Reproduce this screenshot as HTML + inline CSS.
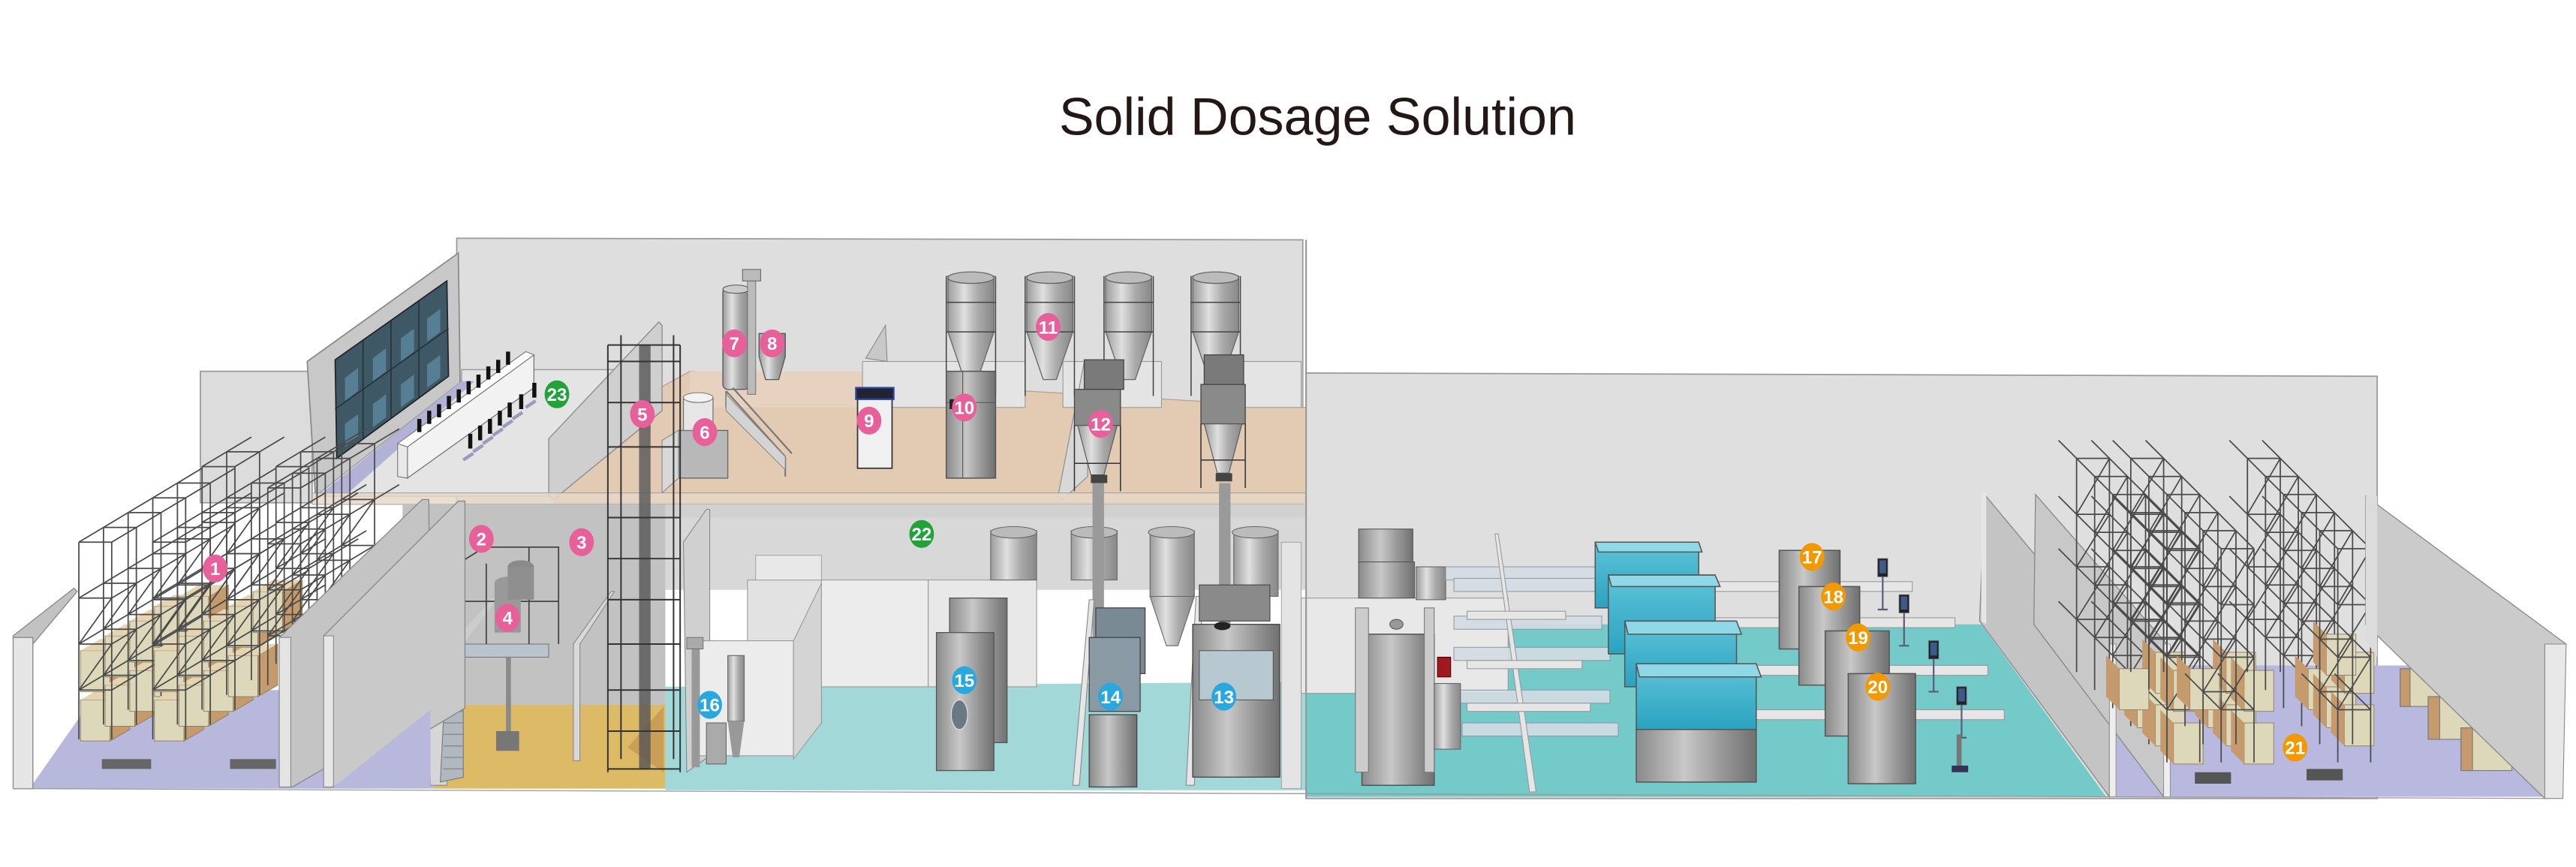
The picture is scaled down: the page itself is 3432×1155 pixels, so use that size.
<!DOCTYPE html>
<html><head><meta charset="utf-8"><style>
html,body{margin:0;padding:0;background:#fff;}
svg{display:block;}
.lb text{font-family:"Liberation Sans Narrow","Liberation Sans",sans-serif;font-weight:bold;font-size:11px;fill:#fff;text-anchor:middle;}
</style></head><body>
<svg width="3432" height="1155" viewBox="0 0 1568 527.7" preserveAspectRatio="none" xmlns="http://www.w3.org/2000/svg">
<defs>
<linearGradient id="met" x1="0" x2="1"><stop offset="0" stop-color="#8a8a8a"/><stop offset="0.4" stop-color="#c8c8c8"/><stop offset="0.7" stop-color="#9a9a9a"/><stop offset="1" stop-color="#707070"/></linearGradient>
<linearGradient id="silo" x1="0" x2="1"><stop offset="0" stop-color="#9c9c9c"/><stop offset="0.35" stop-color="#e0e0e0"/><stop offset="0.65" stop-color="#aaa"/><stop offset="1" stop-color="#888"/></linearGradient>
<linearGradient id="glass" x1="0" y1="0" x2="0" y2="1"><stop offset="0" stop-color="#5fc3d8"/><stop offset="1" stop-color="#2aa3c0"/></linearGradient>
<g id="bayL" fill="none" stroke="#4a4a4a" stroke-width="0.8">
<path d="M0 0V-120M20 0V-120M0 -120H20M0 -86H20M0 -58H20M0 -30H20M0 -120L15 -129M20 -120L35 -129M0 -86L15 -95M20 -86L35 -95M0 -58L15 -67M20 -58L35 -67M0 -30L15 -39M20 -30L35 -39M0 -58L20 -86M0 -30L20 -58"/>
</g>
<g id="boxL"><path d="M1 -1h18v-25h-18z" fill="#ddd8b9" stroke="#8a7a5a" stroke-width="0.4"/><path d="M19 -1l12 -7v-25l-12 7z" fill="#c59b6d" stroke="#8a7a5a" stroke-width="0.4"/><path d="M1 -26l12 -7h18l-12 7z" fill="#e6d4b0"/></g>
<g id="bayR" fill="none" stroke="#4a4a4a" stroke-width="0.8">
<path d="M0 0V-130M20 0V-130M0 -130H20M0 -96H20M0 -64H20M0 -32H20M0 -130L-11 -141M20 -130L9 -141M0 -96L-11 -107M20 -96L9 -107M0 -64L-11 -75M20 -64L9 -75M0 -32L-11 -43M20 -32L9 -43M0 -64L20 -96M0 -32L20 -64M0 -96L20 -130"/>
</g>
<g id="boxR"><path d="M1 -1h18v-25h-18z" fill="#ddd8b9" stroke="#8a7a5a" stroke-width="0.4"/><path d="M1 -1l-8 -8v-25l8 8z" fill="#c59b6d"/></g>
<g id="siloU"><path d="M0 0h28v34l-10 29h-8l-10 -29z" fill="url(#silo)" stroke="#666" stroke-width="0.6"/><ellipse cx="14" cy="1" rx="14" ry="3.5" fill="#bbb" stroke="#666" stroke-width="0.6"/><path d="M-1 0V73M29 0V73M-1 16H29M-1 34H29" stroke="#444" stroke-width="0.7" fill="none"/></g>
<g id="mon"><rect x="0" y="0" width="6" height="11" fill="#222" stroke="#555" stroke-width="0.4"/><rect x="1" y="1" width="4" height="8" fill="#3c5a8a"/><path d="M3 11v20M0 31h6" stroke="#5a5a7a" stroke-width="1"/></g>
</defs>

<rect width="1568" height="527.7" fill="#fff"/>
<text x="802" y="82" font-family="Liberation Sans, sans-serif" font-size="32" fill="#231815" text-anchor="middle">Solid Dosage Solution</text>

<!-- back walls -->
<polygon points="278,145 793,146 793,307 278,307" fill="#dedede" stroke="#9a9a9a" stroke-width="0.8"/>
<polygon points="795,227 1447,229 1447,486 795,486" fill="#dfdfdf" stroke="#9a9a9a" stroke-width="0.8"/>
<polygon points="122,226 190,226 190,306 122,306" fill="#dcdcdc" stroke="#9a9a9a" stroke-width="0.8"/>

<!-- ===== UPPER LEVEL ===== -->
<polygon points="187,220 279,154 281,302 192,302" fill="#c8c8c8" stroke="#8a8a8a" stroke-width="0.8"/>
<polygon points="204,219 272,171 273,229 205,279" fill="#3f5866" stroke="#222" stroke-width="0.8"/>
<path d="M221,207V267M238,195V255M255,183V242M204,249L273,200" stroke="#1e2a33" stroke-width="0.6"/>
<path d="M210,230l8,-6v14l-8,6zM227,218l8,-6v14l-8,6zM244,206l8,-6v14l-8,6zM260,194l8,-6v14l-8,6zM210,258l8,-6v14l-8,6zM227,246l8,-6v14l-8,6zM244,234l8,-6v14l-8,6zM260,222l8,-6v14l-8,6z" fill="#5d8aa0" opacity="0.8"/>
<polygon points="281,225 400,225 337,302 192,302 281,232" fill="#e4e4e4" stroke="#999" stroke-width="0.6"/>
<polygon points="196,300 281,232 289,232 212,300" fill="#b2b2d6"/>
<polygon points="248,272 325,216 325,236 248,291" fill="#f2f2f2" stroke="#777" stroke-width="0.6"/>
<polygon points="242,270 320,214 325,216 248,272" fill="#fff" stroke="#777" stroke-width="0.5"/>
<polygon points="242,270 248,272 248,291 242,290" fill="#e8e8e8" stroke="#777" stroke-width="0.5"/>
<g fill="#111">
<rect x="254" y="255" width="2.5" height="8"/><rect x="260" y="250" width="2.5" height="8"/><rect x="266" y="246" width="2.5" height="8"/><rect x="272" y="241" width="2.5" height="8"/><rect x="278" y="237" width="2.5" height="8"/><rect x="284" y="232" width="2.5" height="8"/><rect x="290" y="228" width="2.5" height="8"/><rect x="296" y="223" width="2.5" height="8"/><rect x="302" y="219" width="2.5" height="8"/><rect x="308" y="214" width="2.5" height="8"/>
<rect x="285" y="264" width="2.5" height="9"/><rect x="291" y="259" width="2.5" height="9"/><rect x="297" y="255" width="2.5" height="9"/><rect x="303" y="250" width="2.5" height="9"/><rect x="309" y="245" width="2.5" height="9"/><rect x="316" y="240" width="2.5" height="9"/><rect x="324" y="233" width="2.5" height="9"/>
</g>
<path d="M282,280l6,-4M288,275l6,-4M294,270l6,-4M300,265l6,-4M306,260l6,-4M312,255l6,-4M320,248l6,-4" stroke="#9a9ac0" stroke-width="2"/>
<!-- beige floor -->
<polygon points="337,306 795,306 795,248 420,226 380,248" fill="#e3cab3" stroke="#b8a08a" stroke-width="0.6"/>
<polygon points="420,226 525,226 525,248 420,248" fill="#e6d2bf"/>
<polygon points="334,267 401,196 403,198 403,250 337,304 334,302" fill="#cfcfcf" stroke="#8a8a8a" stroke-width="0.6"/>
<rect x="525" y="220" width="99" height="28" fill="#e4e4e4" stroke="#999" stroke-width="0.5"/>
<rect x="647" y="220" width="60" height="28" fill="#e4e4e4" stroke="#999" stroke-width="0.5"/>
<rect x="756" y="220" width="36" height="28" fill="#e4e4e4" stroke="#999" stroke-width="0.5"/>
<polygon points="527,218 539,198 540,220" fill="#c8c8c8" stroke="#888" stroke-width="0.5"/>
<use href="#siloU" x="577" y="168"/><use href="#siloU" x="625" y="168"/><use href="#siloU" x="673" y="168"/><use href="#siloU" x="726" y="168"/>
<rect x="576" y="226" width="30" height="65" fill="url(#met)" stroke="#555" stroke-width="0.7"/>
<path d="M586,226V291M576,245H606" stroke="#555" stroke-width="0.5"/>
<rect x="578" y="243" width="5" height="6" fill="#222"/>
<rect x="522" y="241" width="21" height="44" fill="#f0f0f0" stroke="#333" stroke-width="0.8"/>
<rect x="521" y="236" width="23" height="7" fill="#223" stroke="#2a4aa0" stroke-width="1"/>
<polygon points="644,302 660,220 662,221 662,290 647,304" fill="#d8d8d8" stroke="#888" stroke-width="0.5"/>
<rect x="660" y="219" width="24" height="18" fill="#7a7a7a" stroke="#444" stroke-width="0.6"/>
<rect x="654" y="237" width="28" height="22" fill="#8a8a8a" stroke="#444" stroke-width="0.6"/>
<path d="M656,259h24l-8,30h-8z" fill="url(#silo)" stroke="#555" stroke-width="0.5"/>
<path d="M654,259V299M682,259V299M654,282H682" stroke="#333" stroke-width="0.7"/>
<rect x="664" y="289" width="10" height="5" fill="#444"/>
<rect x="733" y="216" width="24" height="18" fill="#7a7a7a" stroke="#444" stroke-width="0.6"/>
<rect x="731" y="234" width="27" height="24" fill="#8a8a8a" stroke="#444" stroke-width="0.6"/>
<path d="M733,258h23l-8,30h-7z" fill="url(#silo)" stroke="#555" stroke-width="0.5"/>
<path d="M731,258V297M758,258V297M731,280H758" stroke="#333" stroke-width="0.7"/>
<rect x="740" y="288" width="10" height="5" fill="#444"/>
<rect x="440" y="175" width="16" height="62" rx="3" fill="url(#silo)" stroke="#555" stroke-width="0.6"/>
<ellipse cx="448" cy="176" rx="8" ry="2.5" fill="#ccc" stroke="#555" stroke-width="0.5"/>
<rect x="455" y="170" width="5" height="70" fill="#bbb" stroke="#666" stroke-width="0.4"/>
<rect x="452" y="164" width="11" height="7" fill="#bbb" stroke="#666" stroke-width="0.5"/>
<path d="M462,203h16v14l-4,14h-8l-4,-14z" fill="url(#silo)" stroke="#555" stroke-width="0.6"/>
<path d="M442,238L478,278M446,236L482,276M442,238V248M478,278V290" stroke="#777" stroke-width="1" fill="none"/>
<polygon points="442,240 478,278 478,286 442,250" fill="#d4d4d4" stroke="#888" stroke-width="0.5"/>
<polygon points="413,262 443,262 443,291 413,291" fill="#b8b8b8" stroke="#666" stroke-width="0.6"/>
<polygon points="403,268 413,262 413,291 403,300" fill="#d8d8d8" stroke="#888" stroke-width="0.5"/>
<rect x="416" y="242" width="18" height="20" fill="#e6e6e6" stroke="#777" stroke-width="0.6"/>
<ellipse cx="425" cy="242" rx="9" ry="3" fill="#f2f2f2" stroke="#777" stroke-width="0.5"/>
<rect x="190" y="300" width="605" height="7" fill="#e8d8c8" opacity="0.85" stroke="#999" stroke-width="0.5"/>

<!-- ===== LOWER LEVEL ===== -->
<polygon points="18,480 264,480 264,420 60,420" fill="#b8b8dc"/>
<polygon points="264,480 405,480 405,428 264,428" fill="#ddbb66"/>
<polygon points="405,481 795,481 795,415 405,418" fill="#a3d8d8"/>
<polygon points="795,485 1282,485 1206,380 795,380" fill="#74c9c9"/>
<polygon points="1284,485 1549,485 1470,405 1284,405" fill="#b9b9e0"/>
<rect x="245" y="307" width="160" height="122" fill="#c2c2c2"/>
<rect x="405" y="307" width="390" height="52" fill="#d8d8d8"/>
<rect x="405" y="307" width="390" height="8" fill="#cfcfcf" opacity="0.7"/>
<polygon points="260,420 272,410 272,478 262,478" fill="#d6d6d6" stroke="#888" stroke-width="0.5"/>
<polygon points="276,390 304,360 306,360 282,392" fill="#ccc"/>
<rect x="278" y="392" width="56" height="8" fill="#b9c4cc" stroke="#777" stroke-width="0.5"/>
<polygon points="272,398 282,398 282,473 268,476" fill="#b0b8c0" stroke="#777" stroke-width="0.5"/>
<path d="M270,405h12M270,412h12M270,419h12M270,426h12M270,433h12M270,440h12M270,447h12M270,454h12M270,461h12M270,468h12" stroke="#888" stroke-width="0.6"/>
<path d="M279,392V343l16,-10h45V392M279,366H340M296,343V392M322,333V392" stroke="#444" stroke-width="0.8" fill="none"/>
<ellipse cx="309" cy="355" rx="8" ry="4" fill="#999"/><rect x="301" y="355" width="16" height="30" fill="#999"/>
<ellipse cx="317" cy="345" rx="8" ry="4" fill="#8a8a8a"/><rect x="309" y="345" width="16" height="20" fill="#8f8f8f"/>
<rect x="308" y="400" width="3" height="45" fill="#8a8a8a"/><rect x="302" y="445" width="14" height="12" fill="#777"/>
<polygon points="349,392 372,360 374,360 353,392 353,463 349,463" fill="#d8d8d8" stroke="#888" stroke-width="0.5"/>
<polygon points="382,455 404,430 404,470" fill="#c08a4a" opacity="0.6"/>
<polygon points="8,387 45,358 47,360 20,392 20,480 10,480" fill="#c2c2c2" stroke="#888" stroke-width="0.6"/>
<rect x="8" y="388" width="12" height="92" fill="#e6e6e6" stroke="#888" stroke-width="0.6"/>

<!-- left racks -->
<g>
<use href="#boxL" x="48" y="452"/><use href="#boxL" x="48" y="422"/><use href="#boxL" x="63" y="443"/><use href="#boxL" x="63" y="413"/><use href="#boxL" x="78" y="434"/><use href="#boxL" x="78" y="404"/><use href="#boxL" x="93" y="425"/><use href="#boxL" x="93" y="395"/><use href="#boxL" x="108" y="389"/>
<use href="#bayL" x="138" y="395"/><use href="#bayL" x="123" y="404"/><use href="#bayL" x="108" y="414"/><use href="#bayL" x="93" y="423"/><use href="#bayL" x="78" y="432"/><use href="#bayL" x="63" y="441"/><use href="#bayL" x="48" y="450"/>
<use href="#boxL" x="93" y="452"/><use href="#boxL" x="93" y="422"/><use href="#boxL" x="108" y="443"/><use href="#boxL" x="108" y="413"/><use href="#boxL" x="123" y="434"/><use href="#boxL" x="123" y="404"/><use href="#boxL" x="138" y="425"/><use href="#boxL" x="138" y="395"/><use href="#boxL" x="153" y="386"/>
<use href="#bayL" x="183" y="395"/><use href="#bayL" x="168" y="404"/><use href="#bayL" x="153" y="414"/><use href="#bayL" x="138" y="423"/><use href="#bayL" x="123" y="432"/><use href="#bayL" x="108" y="441"/><use href="#bayL" x="93" y="450"/>
<use href="#bayL" x="208" y="390"/><use href="#bayL" x="193" y="399"/><use href="#bayL" x="178" y="408"/><use href="#bayL" x="163" y="417"/>
<path d="M62,462h30v6h-30zM140,462h28v6h-28z" fill="#666"/>
</g>
<polygon points="170,388 257,304 261,304 262,430 178,479 170,479" fill="#c4c4c4" stroke="#888" stroke-width="0.6"/>
<rect x="170" y="388" width="7" height="91" fill="#e4e4e4" stroke="#888" stroke-width="0.5"/>
<polygon points="197,387 279,305 283,305 283,431 203,479 197,479" fill="#c9c9c9" stroke="#888" stroke-width="0.6"/>
<rect x="197" y="387" width="6" height="92" fill="#e6e6e6" stroke="#888" stroke-width="0.5"/>
<polygon points="203,479 262,432 262,479" fill="#b8b8dc"/>

<!-- shaft 5 -->
<rect x="389" y="210" width="7" height="258" fill="#555" opacity="0.8"/>
<g fill="none" stroke="#333" stroke-width="0.9">
<path d="M370,210h44M370,220h44M370,245h44M370,272h44M370,315h44M370,340h44M370,365h44M370,392h44M370,420h44M370,445h44M370,468h44"/>
<path d="M370,210V470M414,210V470M378,204V462M410,204V462"/>
</g>
<polygon points="416,330 430,310 432,310 432,460 418,470" fill="#d0d0d0" stroke="#888" stroke-width="0.5"/>
<rect x="455" y="353" width="45" height="87" fill="#e2e2e2" stroke="#999" stroke-width="0.5"/>
<rect x="500" y="353" width="65" height="65" fill="#ececec" stroke="#999" stroke-width="0.5"/>
<rect x="565" y="353" width="66" height="65" fill="#e8e8e8" stroke="#999" stroke-width="0.5"/>
<polygon points="460,338 500,338 500,353 460,353" fill="#e8e8e8" stroke="#999" stroke-width="0.4"/>
<rect x="424" y="390" width="59" height="70" fill="#ececec" stroke="#999" stroke-width="0.5"/>
<polygon points="483,390 500,355 500,440 483,462" fill="#d4d4d4" stroke="#999" stroke-width="0.5"/>
<rect x="421" y="395" width="5" height="72" fill="#999"/><rect x="418" y="388" width="10" height="7" fill="#aaa" stroke="#666" stroke-width="0.4"/>
<rect x="443" y="399" width="10" height="40" fill="url(#silo)" stroke="#666" stroke-width="0.5"/>
<path d="M443,439h10l-3,22h-4z" fill="#999"/>
<rect x="430" y="440" width="12" height="25" fill="#aaa" stroke="#666" stroke-width="0.5"/>
<g>
<rect x="603" y="323" width="28" height="30" fill="url(#silo)" stroke="#666" stroke-width="0.5"/><ellipse cx="617" cy="324" rx="14" ry="3.5" fill="#bbb" stroke="#666" stroke-width="0.5"/>
<rect x="652" y="323" width="28" height="30" fill="url(#silo)" stroke="#666" stroke-width="0.5"/><ellipse cx="666" cy="324" rx="14" ry="3.5" fill="#bbb" stroke="#666" stroke-width="0.5"/>
<rect x="700" y="323" width="27" height="40" fill="url(#silo)" stroke="#666" stroke-width="0.5"/><ellipse cx="713" cy="324" rx="14" ry="3.5" fill="#bbb" stroke="#666" stroke-width="0.5"/>
<path d="M700,363h27l-10,30h-7z" fill="url(#silo)" stroke="#666" stroke-width="0.5"/>
<rect x="751" y="323" width="27" height="40" fill="url(#silo)" stroke="#666" stroke-width="0.5"/><ellipse cx="764" cy="324" rx="14" ry="3.5" fill="#bbb" stroke="#666" stroke-width="0.5"/>
</g>
<rect x="665" y="294" width="7" height="118" fill="#9a9a9a"/><rect x="742" y="294" width="7" height="100" fill="#9a9a9a"/>
<rect x="578" y="364" width="35" height="88" fill="url(#met)" stroke="#555" stroke-width="0.6"/>
<rect x="570" y="385" width="35" height="84" fill="url(#met)" stroke="#555" stroke-width="0.6"/>
<ellipse cx="584" cy="435" rx="5" ry="9" fill="#6a7a84" stroke="#ddd" stroke-width="0.6"/>
<polygon points="653,478 663,365 666,365 657,478" fill="#e6e6e6" stroke="#888" stroke-width="0.5"/>
<rect x="667" y="370" width="30" height="40" fill="#7a8a94" stroke="#444" stroke-width="0.6"/>
<rect x="663" y="388" width="31" height="45" fill="#8a9aa4" stroke="#444" stroke-width="0.6"/>
<rect x="663" y="435" width="29" height="44" fill="url(#met)" stroke="#444" stroke-width="0.6"/>
<polygon points="722,478 728,363 732,363 727,478" fill="#e6e6e6" stroke="#888" stroke-width="0.5"/>
<rect x="730" y="356" width="43" height="22" fill="#8a8a8a" stroke="#444" stroke-width="0.5"/>
<rect x="726" y="380" width="53" height="93" fill="url(#met)" stroke="#444" stroke-width="0.6"/>
<rect x="730" y="396" width="45" height="30" fill="#b8c8d0" stroke="#555" stroke-width="0.5"/>
<ellipse cx="744" cy="381" rx="5" ry="2.5" fill="#222"/>
<rect x="780" y="330" width="12" height="150" fill="#e4e4e4" stroke="#999" stroke-width="0.4"/>

<!-- ===== RIGHT AREA ===== -->
<rect x="792" y="364" width="126" height="58" fill="#e8e8e8" stroke="#999" stroke-width="0.5"/>
<rect x="827" y="322" width="33" height="20" fill="url(#met)" stroke="#555" stroke-width="0.5"/>
<rect x="827" y="342" width="34" height="22" fill="url(#met)" stroke="#555" stroke-width="0.5"/>
<rect x="862" y="345" width="18" height="20" fill="url(#silo)" stroke="#666" stroke-width="0.5"/>
<g fill="#d4dce4" stroke="#8a98a4" stroke-width="0.5" opacity="0.9">
<rect x="880" y="345" width="92" height="8"/><rect x="885" y="352" width="90" height="8"/><rect x="885" y="375" width="90" height="8"/><rect x="885" y="394" width="95" height="8"/><rect x="885" y="420" width="95" height="8"/><rect x="890" y="440" width="95" height="8"/>
</g>
<rect x="875" y="400" width="8" height="12" fill="#a01820" stroke="#500" stroke-width="0.5"/>
<rect x="829" y="386" width="44" height="92" fill="url(#met)" stroke="#555" stroke-width="0.7"/>
<rect x="825" y="370" width="8" height="100" fill="#ccc" stroke="#777" stroke-width="0.5"/>
<rect x="867" y="370" width="6" height="100" fill="#ccc" stroke="#777" stroke-width="0.5"/>
<ellipse cx="850" cy="380" rx="4" ry="3" fill="#999" stroke="#555" stroke-width="0.5"/>
<rect x="873" y="416" width="16" height="40" fill="url(#silo)" stroke="#666" stroke-width="0.5"/>
<polygon points="910,325 912,325 935,482 931,482" fill="#e6e6e6" stroke="#999" stroke-width="0.5"/>
<g fill="#e6e6e6" stroke="#999" stroke-width="0.5">
<rect x="1030" y="354" width="134" height="6"/><rect x="1040" y="376" width="150" height="6"/><rect x="1050" y="405" width="160" height="6"/><rect x="1060" y="432" width="160" height="6"/>
<rect x="893" y="372" width="60" height="5"/><rect x="893" y="402" width="70" height="5"/><rect x="893" y="428" width="75" height="5"/>
</g>
<g stroke="#555" stroke-width="0.7">
<rect x="971" y="330" width="63" height="40" fill="url(#glass)"/><polygon points="971,330 1034,330 1036,336 973,336" fill="#8fd8e8"/>
<rect x="979" y="350" width="65" height="48" fill="url(#glass)"/><polygon points="979,350 1044,350 1047,357 981,357" fill="#8fd8e8"/>
<rect x="989" y="378" width="68" height="40" fill="url(#glass)"/><polygon points="989,378 1057,378 1060,386 991,386" fill="#8fd8e8"/>
<rect x="996" y="404" width="73" height="40" fill="url(#glass)"/><polygon points="996,404 1069,404 1072,412 998,412" fill="#8fd8e8"/>
<rect x="996" y="444" width="73" height="32" fill="url(#met)"/>
</g>
<g stroke="#555" stroke-width="0.7">
<rect x="1083" y="335" width="37" height="60" fill="url(#met)"/>
<rect x="1095" y="357" width="37" height="60" fill="url(#met)"/>
<rect x="1111" y="384" width="39" height="64" fill="url(#met)"/>
<rect x="1125" y="410" width="41" height="67" fill="url(#met)"/>
</g>
<use href="#mon" x="1143" y="340"/><use href="#mon" x="1156" y="362"/><use href="#mon" x="1174" y="390"/><use href="#mon" x="1191" y="418"/>
<rect x="1191" y="447" width="3" height="20" fill="#777"/><rect x="1188" y="466" width="10" height="4" fill="#335"/>
<polygon points="1208,301 1284,392 1284,485 1205,378" fill="#c4c4c4" stroke="#888" stroke-width="0.6"/>
<polygon points="1206,300 1209,300 1209,380 1206,378" fill="#e6e6e6"/>
<polygon points="1239,301 1319,392 1317,485 1238,380" fill="#c8c8c8" stroke="#888" stroke-width="0.6"/>
<polygon points="1284,392 1288,392 1288,485 1284,485" fill="#eee" stroke="#888" stroke-width="0.4"/>
<polygon points="1317,392 1321,392 1321,485 1317,485" fill="#eee" stroke="#888" stroke-width="0.4"/>
<!-- right racks -->
<g>
<use href="#bayR" x="1264" y="409"/><use href="#bayR" x="1275" y="420"/><use href="#bayR" x="1286" y="431"/><use href="#bayR" x="1297" y="442"/><use href="#bayR" x="1308" y="453"/>
<use href="#boxR" x="1300" y="444"/><use href="#boxR" x="1311" y="455"/><use href="#boxR" x="1311" y="423"/><use href="#boxR" x="1322" y="466"/><use href="#boxR" x="1322" y="434"/><use href="#boxR" x="1289" y="433"/>
<use href="#bayR" x="1319" y="464"/>
<use href="#bayR" x="1297" y="409"/><use href="#bayR" x="1308" y="420"/><use href="#bayR" x="1319" y="431"/><use href="#bayR" x="1330" y="442"/>
<use href="#boxR" x="1343" y="444"/><use href="#boxR" x="1354" y="455"/><use href="#boxR" x="1354" y="423"/><use href="#boxR" x="1365" y="466"/><use href="#boxR" x="1365" y="434"/><use href="#boxR" x="1332" y="433"/>
<use href="#bayR" x="1341" y="453"/><use href="#bayR" x="1352" y="464"/>
<use href="#bayR" x="1368" y="409"/><use href="#bayR" x="1379" y="420"/><use href="#bayR" x="1390" y="431"/><use href="#bayR" x="1401" y="442"/>
<use href="#boxR" x="1404" y="433"/><use href="#boxR" x="1415" y="444"/><use href="#boxR" x="1426" y="455"/><use href="#boxR" x="1426" y="423"/><use href="#boxR" x="1415" y="412"/>
<use href="#bayR" x="1412" y="453"/><use href="#bayR" x="1423" y="464"/>
<path d="M1336,470h22v7h-22zM1404,468h22v7h-22z" fill="#555"/>
</g>
<g stroke="#777" stroke-width="0.5">
<rect x="1461" y="407" width="25" height="23" fill="#ddd8b9"/><rect x="1478" y="424" width="28" height="26" fill="#ddd8b9"/><rect x="1498" y="443" width="31" height="26" fill="#ddd8b9"/>
<rect x="1461" y="407" width="6" height="23" fill="#c59b6d"/><rect x="1478" y="424" width="7" height="26" fill="#c59b6d"/><rect x="1498" y="443" width="7" height="26" fill="#c59b6d"/>
</g>
<polygon points="1440,302 1562,392 1549,486 1440,380" fill="#cbcbcb" stroke="#888" stroke-width="0.6"/>
<polygon points="1549,392 1562,392 1560,486 1549,486" fill="#e8e8e8" stroke="#888" stroke-width="0.5"/>
<polygon points="1440,302 1447,302 1447,400 1440,390" fill="#dcdcdc"/>
<line x1="795" y1="146" x2="795" y2="486" stroke="#999" stroke-width="1"/>
<line x1="8" y1="480" x2="1552" y2="486" stroke="#999" stroke-width="0.6"/>

<!-- labels -->
<g class="lb">
<g fill="#e8609a">
<ellipse cx="131" cy="346" rx="7.5" ry="8.5"/><ellipse cx="293" cy="328" rx="7.5" ry="8.5"/><ellipse cx="354" cy="330" rx="7.5" ry="8.5"/><ellipse cx="309" cy="376" rx="7.5" ry="8.5"/><ellipse cx="391" cy="252" rx="7.5" ry="8.5"/><ellipse cx="429" cy="263" rx="7.5" ry="8.5"/><ellipse cx="447" cy="209" rx="7.5" ry="8.5"/><ellipse cx="470" cy="209" rx="7.5" ry="8.5"/><ellipse cx="529" cy="256" rx="7.5" ry="8.5"/><ellipse cx="587" cy="248" rx="7.5" ry="8.5"/><ellipse cx="638" cy="199" rx="7.5" ry="8.5"/><ellipse cx="670" cy="258" rx="7.5" ry="8.5"/>
</g>
<g fill="#29a8e0"><ellipse cx="745" cy="424" rx="7.5" ry="8.5"/><ellipse cx="676" cy="424" rx="7.5" ry="8.5"/><ellipse cx="587" cy="414" rx="7.5" ry="8.5"/><ellipse cx="432" cy="429" rx="7.5" ry="8.5"/></g>
<g fill="#f39800"><ellipse cx="1103" cy="339" rx="7.5" ry="8.5"/><ellipse cx="1116" cy="363" rx="7.5" ry="8.5"/><ellipse cx="1131" cy="388" rx="7.5" ry="8.5"/><ellipse cx="1143" cy="418" rx="7.5" ry="8.5"/><ellipse cx="1397" cy="455" rx="7.5" ry="8.5"/></g>
<g fill="#22a33a"><ellipse cx="561" cy="325" rx="7.5" ry="8.5"/><ellipse cx="339" cy="240" rx="7.5" ry="8.5"/></g>
<text x="131" y="350">1</text><text x="293" y="332">2</text><text x="354" y="334">3</text><text x="309" y="380">4</text><text x="391" y="256">5</text><text x="429" y="267">6</text><text x="447" y="213">7</text><text x="470" y="213">8</text><text x="529" y="260">9</text><text x="587" y="252">10</text><text x="638" y="203">11</text><text x="670" y="262">12</text>
<text x="745" y="428">13</text><text x="676" y="428">14</text><text x="587" y="418">15</text><text x="432" y="433">16</text>
<text x="1103" y="343">17</text><text x="1116" y="367">18</text><text x="1131" y="392">19</text><text x="1143" y="422">20</text><text x="1397" y="459">21</text>
<text x="561" y="329">22</text><text x="339" y="244">23</text>
</g>
</svg>
</body></html>
